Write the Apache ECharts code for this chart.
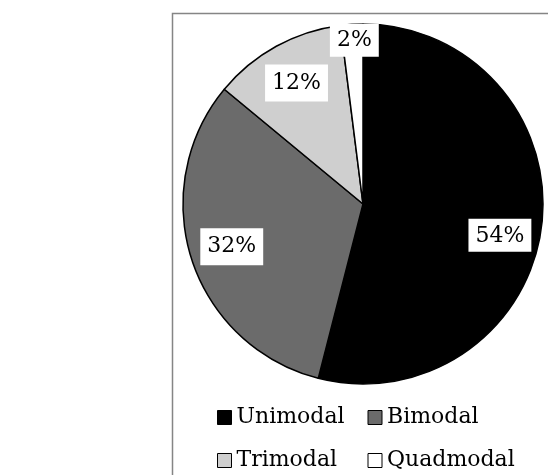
<!DOCTYPE html>
<html>
<head>
<meta charset="utf-8">
<style>
  html, body { margin: 0; padding: 0; background: #fff; }
  #chart { width: 548px; height: 475px; }
</style>
<script src="https://cdn.jsdelivr.net/npm/echarts@6/dist/echarts.min.js"></script>
</head>
<body>
<div id="chart"></div>
<script>
// Share of samples by number of modes
const categories = ['Unimodal', 'Bimodal', 'Trimodal', 'Quadmodal'];
const shares = [54, 32, 12, 2];
const sliceColors = ['#000000', '#6b6b6b', '#cfcfcf', '#ffffff'];

const FONT = '"DejaVu Serif", "Liberation Serif", serif';
const CX = 363, CY = 204, R = 180;
const LABEL_SIZE = 22;

const chart = echarts.init(document.getElementById('chart'), null, { renderer: 'canvas' });

const pieData = categories.map((name, i) => ({
  name,
  value: shares[i],
  itemStyle: { color: sliceColors[i] }
}));

// Boxed value label; a blank spacer line above or below nudges the box along the slice
const boxStyle = {
  fontFamily: FONT, fontSize: LABEL_SIZE, color: '#000',
  backgroundColor: '#fff', padding: [6, 7, 5, 7], lineHeight: 26
};
function shiftedLabel(text, dy) {
  const h = Math.abs(dy) * 2;
  const fmt = dy < 0 ? '{v|' + text + '}\n{s|}' : '{s|}\n{v|' + text + '}';
  return {
    formatter: fmt,
    rich: { v: boxStyle, s: { height: h, lineHeight: h } },
    backgroundColor: 'transparent',
    padding: 0
  };
}

// Label ring: transparent slices whose mid-radius puts labels at 3/4 of the pie radius
const labelData = categories.map((name, i) => {
  const item = { name, value: shares[i] };
  if (i === 0) item.label = shiftedLabel(shares[i] + '%', 14);
  if (i === 3) item.label = shiftedLabel(shares[i] + '%', -26);
  return item;
});

chart.setOption({
  animation: false,
  backgroundColor: '#fff',
  graphic: [{
    type: 'rect',
    shape: { x: 172.5, y: 13.5, width: 400, height: 480 },
    style: { fill: 'none', stroke: '#858585', lineWidth: 1.5 },
    silent: true,
    z: -1
  }],
  legend: {
    data: categories,
    left: 217,
    top: 400,
    width: 310,
    padding: 0,
    orient: 'horizontal',
    icon: 'rect',
    itemWidth: 14,
    itemHeight: 14,
    itemGap: 8,
    selectedMode: false,
    itemStyle: { borderColor: '#000', borderWidth: 1 },
    textStyle: {
      fontFamily: FONT,
      fontSize: 22,
      color: '#000',
      width: 123,
      lineHeight: 35,
      overflow: 'none',
      padding: [0, 0, 0, 0]
    }
  },
  series: [
    {
      type: 'pie',
      center: [CX, CY],
      radius: R,
      startAngle: 90,
      clockwise: true,
      data: pieData,
      label: { show: false },
      labelLine: { show: false },
      itemStyle: { borderColor: '#000', borderWidth: 1.5 },
      emphasis: { disabled: true },
      silent: true
    },
    {
      type: 'pie',
      center: [CX, CY],
      radius: [R * 0.5, R],
      startAngle: 90,
      clockwise: true,
      data: labelData,
      itemStyle: { color: 'transparent', borderWidth: 0 },
      label: {
        show: true,
        position: 'inside',
        formatter: (p) => p.value + '%',
        fontFamily: FONT,
        fontSize: LABEL_SIZE,
        color: '#000',
        backgroundColor: '#fff',
        lineHeight: 26,
        padding: [6, 7, 5, 7]
      },
      labelLine: { show: false },
      emphasis: { disabled: true },
      silent: true,
      z: 3
    }
  ]
});
</script>
</body>
</html>
